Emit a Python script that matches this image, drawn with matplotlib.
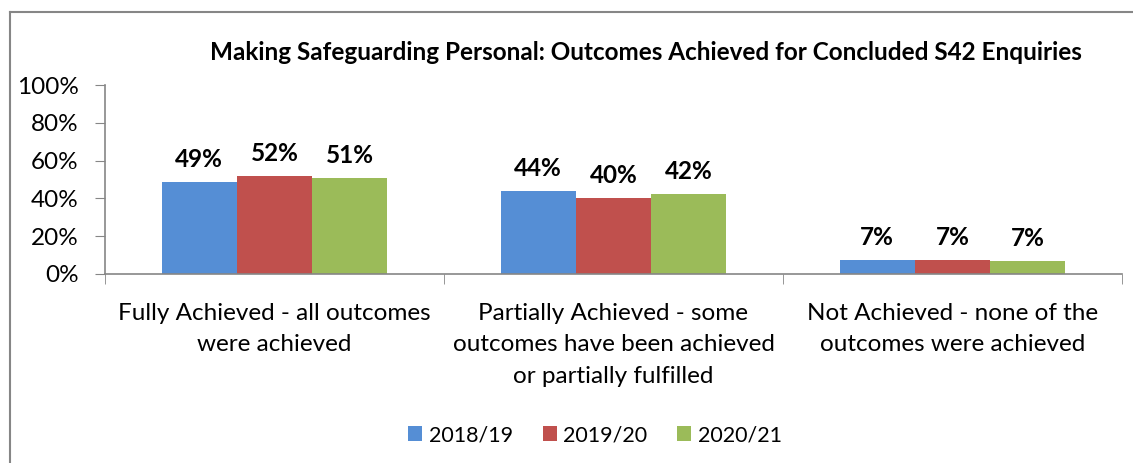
import matplotlib.pyplot as plt
import numpy as np

categories = ["Fully Achieved - all outcomes\nwere achieved",
              "Partially Achieved - some\noutcomes have been achieved\nor partially fulfilled",
              "Not Achieved - none of the\noutcomes were achieved"]
years = ["2018/19", "2019/20", "2020/21"]
values = {
    "2018/19": [0.487, 0.437, 0.072],
    "2019/20": [0.520, 0.403, 0.072],
    "2020/21": [0.507, 0.423, 0.070],
}
colors = ["#558ed5", "#c0504d", "#9bbb59"]

plt.rcParams['font.family'] = ['Lato', 'DejaVu Sans']

fig = plt.figure(figsize=(11.33, 4.63), dpi=100)
ax = fig.add_axes([105/1133, 1 - 274/463, (1122-105)/1133, (274-85)/463])

x = np.arange(len(categories))
w = 0.222
for i, (yr, c) in enumerate(zip(years, colors)):
    bars = ax.bar(x + (i - 1) * w, values[yr], w, color=c, label=yr)
    for b, v in zip(bars, values[yr]):
        ax.text(b.get_x() + b.get_width() / 2, v + 0.12, f"{round(v*100)}%",
                ha="center", va="center", fontsize=17.5, fontweight="bold")

ax.set_xlim(-0.5, 2.5)
ax.set_ylim(0, 1)
ax.set_yticks(np.arange(0, 1.01, 0.2))
ax.set_yticklabels([f"{int(t*100)}%" for t in np.arange(0, 1.01, 0.2)], fontsize=17.5)
ax.set_xticks(x)
ax.set_xticklabels(categories, fontsize=17.5, linespacing=1.6)
ax.tick_params(axis="x", length=0, pad=21)
ax.tick_params(axis="y", length=7, color="#868686", pad=12)
ax.set_xticks([-0.5, 0.5, 1.5, 2.5], minor=True)
ax.tick_params(axis="x", which="minor", length=7, color="#868686")
for s in ["top", "right"]:
    ax.spines[s].set_visible(False)
for s in ["left", "bottom"]:
    ax.spines[s].set_color("#868686")
    ax.spines[s].set_linewidth(1.2)

fig.text(646/1133, 1 - 52/463,
         "Making Safeguarding Personal: Outcomes Achieved for Concluded S42 Enquiries",
         ha="center", va="center", fontsize=17.5, fontweight="bold")

fig.legend(loc="center", bbox_to_anchor=(595/1133, 1 - 435/463), ncol=3,
           frameon=False, fontsize=15.5, handlelength=0.65, handleheight=0.65,
           handletextpad=0.3, columnspacing=1.4)

# frame around the chart area
fig.add_artist(plt.Line2D([10/1133, 10/1133], [0, 1 - 12/463], color="#868686", lw=1.5))
fig.add_artist(plt.Line2D([10/1133, 1], [1 - 12/463, 1 - 12/463], color="#868686", lw=1.5))

fig.savefig("out.png", dpi=100)
